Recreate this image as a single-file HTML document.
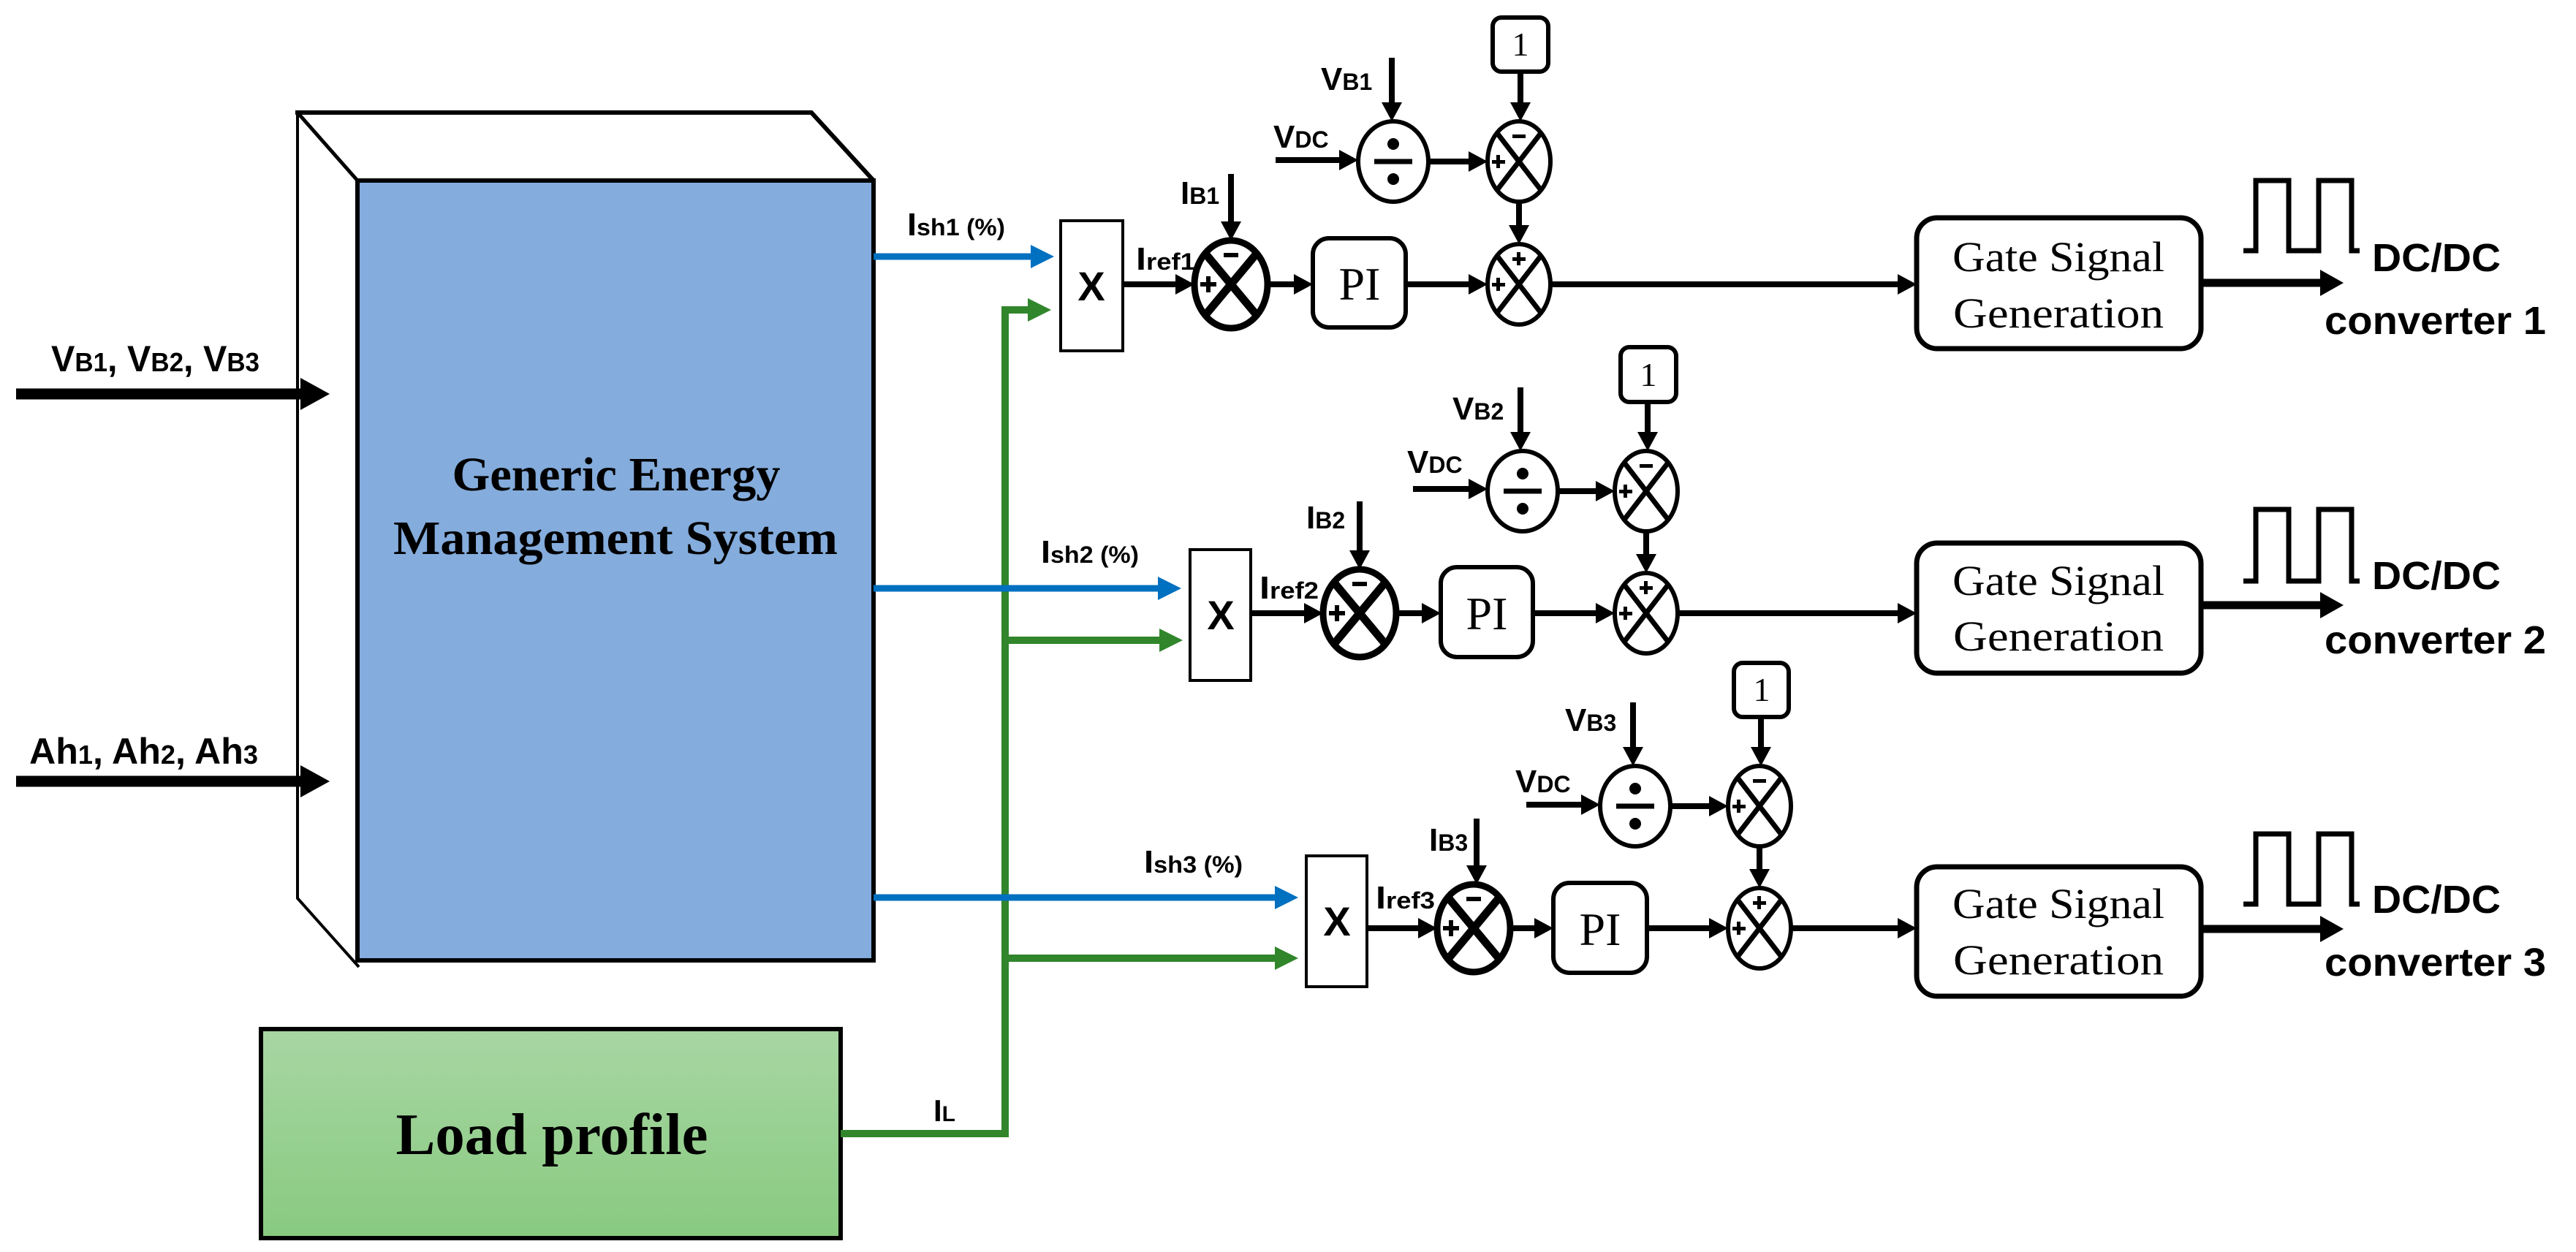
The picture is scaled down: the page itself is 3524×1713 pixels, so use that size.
<!DOCTYPE html>
<html><head><meta charset="utf-8"><style>
html,body{margin:0;padding:0;background:#fff;}
svg{display:block;}
.lb{font-family:"Liberation Sans Narrow","Liberation Sans",sans-serif;font-weight:bold;fill:#000;}
.sr{font-family:"Liberation Serif",serif;fill:#000;}
</style></head><body>
<svg width="3524" height="1713" viewBox="0 0 3524 1713" xmlns="http://www.w3.org/2000/svg">
<defs>
<marker id="a" markerWidth="26" markerHeight="28" refX="14" refY="14" orient="auto" markerUnits="userSpaceOnUse"><path d="M0,0 L26,14 L0,28z" fill="#000"/></marker>
<marker id="ab" markerWidth="40" markerHeight="44" refX="25" refY="22" orient="auto" markerUnits="userSpaceOnUse"><path d="M0,0 L40,22 L0,44z" fill="#000"/></marker>
<marker id="ao" markerWidth="32" markerHeight="36" refX="20" refY="18" orient="auto" markerUnits="userSpaceOnUse"><path d="M0,0 L32,18 L0,36z" fill="#000"/></marker>
<marker id="bl" markerWidth="32" markerHeight="32" refX="20" refY="16" orient="auto" markerUnits="userSpaceOnUse"><path d="M0,0 L32,16 L0,32z" fill="#0070c0"/></marker>
<marker id="gr" markerWidth="32" markerHeight="32" refX="20" refY="16" orient="auto" markerUnits="userSpaceOnUse"><path d="M0,0 L32,16 L0,32z" fill="#31862b"/></marker>
<linearGradient id="lg" x1="0" y1="0" x2="0" y2="1"><stop offset="0" stop-color="#a8d6a3"/><stop offset="1" stop-color="#88ca80"/></linearGradient>
</defs>

<path d="M404,154 H1110 L1195,247" fill="none" stroke="#000" stroke-width="6"/>
<path d="M407,154 L489,247" fill="none" stroke="#000" stroke-width="5"/>
<path d="M407,154 V1229 L491,1323" fill="none" stroke="#000" stroke-width="4"/>
<rect x="489" y="247" width="706" height="1067" fill="#84acdc" stroke="#000" stroke-width="6"/>
<text class="sr" x="843" y="671" font-size="66" text-anchor="middle" textLength="449" lengthAdjust="spacingAndGlyphs" font-weight="bold">Generic Energy</text>
<text class="sr" x="842" y="758" font-size="66" text-anchor="middle" textLength="608" lengthAdjust="spacingAndGlyphs" font-weight="bold">Management System</text>

<line x1="22" y1="539" x2="436" y2="539" stroke="#000" stroke-width="15" marker-end="url(#ab)"/>
<text class="lb" x="70" y="508" font-size="50" textLength="285" lengthAdjust="spacingAndGlyphs">V<tspan font-size="36">B1</tspan>, V<tspan font-size="36">B2</tspan>, V<tspan font-size="36">B3</tspan></text>
<line x1="22" y1="1069" x2="436" y2="1069" stroke="#000" stroke-width="15" marker-end="url(#ab)"/>
<text class="lb" x="40" y="1045" font-size="50" textLength="313" lengthAdjust="spacingAndGlyphs">Ah<tspan font-size="36">1</tspan>, Ah<tspan font-size="36">2</tspan>, Ah<tspan font-size="36">3</tspan></text>

<rect x="357" y="1408" width="793" height="286" fill="url(#lg)" stroke="#000" stroke-width="6"/>
<text class="sr" x="755" y="1579" font-size="80" text-anchor="middle" textLength="427" lengthAdjust="spacingAndGlyphs" font-weight="bold">Load profile</text>
<text class="lb" x="1277" y="1534" font-size="42">I<tspan font-size="30">L</tspan></text>

<path d="M1150,1551 H1375 V424 H1426" fill="none" stroke="#31862b" stroke-width="10" marker-end="url(#gr)"/>
<line x1="1375" y1="876" x2="1606" y2="876" stroke="#31862b" stroke-width="10" marker-end="url(#gr)"/>
<line x1="1375" y1="1311" x2="1764" y2="1311" stroke="#31862b" stroke-width="10" marker-end="url(#gr)"/>

<line x1="1195" y1="351" x2="1430" y2="351" stroke="#0070c0" stroke-width="9" marker-end="url(#bl)"/>
<line x1="1195" y1="805" x2="1604" y2="805" stroke="#0070c0" stroke-width="9" marker-end="url(#bl)"/>
<line x1="1195" y1="1228" x2="1764" y2="1228" stroke="#0070c0" stroke-width="9" marker-end="url(#bl)"/>
<text class="lb" x="1241" y="322" font-size="44" textLength="134" lengthAdjust="spacingAndGlyphs">I<tspan font-size="32">sh1 (%)</tspan></text>
<text class="lb" x="1424" y="770" font-size="44" textLength="134" lengthAdjust="spacingAndGlyphs">I<tspan font-size="32">sh2 (%)</tspan></text>
<text class="lb" x="1565" y="1194" font-size="44" textLength="135" lengthAdjust="spacingAndGlyphs">I<tspan font-size="32">sh3 (%)</tspan></text>

<g stroke="#000" stroke-width="4" fill="#fff">
<rect x="1451" y="302" width="85" height="178"/>
<rect x="1628" y="752" width="83" height="179"/>
<rect x="1787" y="1171" width="83" height="179"/>
</g>
<g class="lb" font-size="56" text-anchor="middle" font-weight="normal">
<text x="1493" y="411">X</text><text x="1670" y="861">X</text><text x="1829" y="1280">X</text>
</g>

<g stroke="#000" stroke-width="8" fill="none">
<line x1="1536" y1="389" x2="1622" y2="389" marker-end="url(#a)"/>
<line x1="1684" y1="238" x2="1684" y2="317" marker-end="url(#a)"/>
<line x1="1734" y1="389" x2="1784" y2="389" marker-end="url(#a)"/>
<line x1="1923" y1="389" x2="2023" y2="389" marker-end="url(#a)"/>
<line x1="2080" y1="98" x2="2080" y2="154" marker-end="url(#a)"/>
<line x1="1904" y1="79" x2="1904" y2="154" marker-end="url(#a)"/>
<line x1="1745" y1="219" x2="1846" y2="219" marker-end="url(#a)"/>
<line x1="1954" y1="221" x2="2023" y2="221" marker-end="url(#a)"/>
<line x1="2078" y1="276" x2="2078" y2="322" marker-end="url(#a)"/>
<line x1="2121" y1="389" x2="2610" y2="389" marker-end="url(#a)"/>
<line x1="3011" y1="387" x2="3194" y2="387" stroke-width="11" marker-end="url(#ao)"/>
<line x1="1711" y1="839" x2="1798" y2="839" marker-end="url(#a)"/>
<line x1="1860" y1="686" x2="1860" y2="767" marker-end="url(#a)"/>
<line x1="1910" y1="839" x2="1959" y2="839" marker-end="url(#a)"/>
<line x1="2097" y1="839" x2="2197" y2="839" marker-end="url(#a)"/>
<line x1="2254" y1="550" x2="2254" y2="605" marker-end="url(#a)"/>
<line x1="2080" y1="530" x2="2080" y2="605" marker-end="url(#a)"/>
<line x1="1933" y1="669" x2="2023" y2="669" marker-end="url(#a)"/>
<line x1="2131" y1="672" x2="2197" y2="672" marker-end="url(#a)"/>
<line x1="2252" y1="727" x2="2252" y2="772" marker-end="url(#a)"/>
<line x1="2295" y1="839" x2="2610" y2="839" marker-end="url(#a)"/>
<line x1="3011" y1="828" x2="3194" y2="828" stroke-width="11" marker-end="url(#ao)"/>
<line x1="1870" y1="1270" x2="1954" y2="1270" marker-end="url(#a)"/>
<line x1="2020" y1="1120" x2="2020" y2="1198" marker-end="url(#a)"/>
<line x1="2066" y1="1270" x2="2113" y2="1270" marker-end="url(#a)"/>
<line x1="2253" y1="1270" x2="2352" y2="1270" marker-end="url(#a)"/>
<line x1="2409" y1="981" x2="2409" y2="1036" marker-end="url(#a)"/>
<line x1="2234" y1="961" x2="2234" y2="1036" marker-end="url(#a)"/>
<line x1="2088" y1="1101" x2="2177" y2="1101" marker-end="url(#a)"/>
<line x1="2285" y1="1103" x2="2352" y2="1103" marker-end="url(#a)"/>
<line x1="2407" y1="1158" x2="2407" y2="1203" marker-end="url(#a)"/>
<line x1="2450" y1="1270" x2="2610" y2="1270" marker-end="url(#a)"/>
<line x1="3011" y1="1271" x2="3194" y2="1271" stroke-width="11" marker-end="url(#ao)"/>
<path d="M3069,343 H3086 V247 H3131 V343 H3172 V247 H3217 V343 H3228" stroke-width="7"/>
<path d="M3069,795 H3086 V697 H3131 V795 H3172 V697 H3217 V795 H3228" stroke-width="7"/>
<path d="M3069,1237 H3086 V1141 H3131 V1237 H3172 V1141 H3217 V1237 H3228" stroke-width="7"/>
</g>

<g stroke="#000" stroke-width="6" fill="#fff">
<rect x="1796" y="326" width="127" height="122" rx="22"/>
<rect x="1971" y="776" width="126" height="123" rx="22"/>
<rect x="2125" y="1208" width="128" height="123" rx="22"/>
<rect x="2042" y="24" width="76" height="74" rx="12"/>
<rect x="2217" y="475" width="76" height="75" rx="12"/>
<rect x="2372" y="907" width="75" height="74" rx="12"/>
<rect x="2622" y="298" width="389" height="179" rx="28" stroke-width="7"/>
<rect x="2622" y="743" width="389" height="178" rx="28" stroke-width="7"/>
<rect x="2622" y="1186" width="389" height="177" rx="28" stroke-width="7"/>
</g>
<g class="sr" text-anchor="middle">
<text x="1860" y="410" font-size="64">PI</text>
<text x="2034" y="861" font-size="64">PI</text>
<text x="2189" y="1293" font-size="64">PI</text>
<text x="2080" y="76" font-size="46">1</text>
<text x="2255" y="528" font-size="46">1</text>
<text x="2410" y="959" font-size="46">1</text>
<text x="2816" y="371" font-size="58" textLength="290" lengthAdjust="spacingAndGlyphs">Gate Signal</text>
<text x="2816" y="448" font-size="58" textLength="288" lengthAdjust="spacingAndGlyphs">Generation</text>
<text x="2816" y="814" font-size="58" textLength="290" lengthAdjust="spacingAndGlyphs">Gate Signal</text>
<text x="2816" y="890" font-size="58" textLength="288" lengthAdjust="spacingAndGlyphs">Generation</text>
<text x="2816" y="1256" font-size="58" textLength="290" lengthAdjust="spacingAndGlyphs">Gate Signal</text>
<text x="2816" y="1333" font-size="58" textLength="288" lengthAdjust="spacingAndGlyphs">Generation</text>
</g>

<g stroke="#000" fill="#fff">
<ellipse cx="1684" cy="389" rx="50" ry="60" stroke-width="9"/>
<ellipse cx="1860" cy="839" rx="50" ry="60" stroke-width="9"/>
<ellipse cx="2016" cy="1270" rx="50" ry="60" stroke-width="9"/>
<ellipse cx="2078" cy="389" rx="43" ry="55" stroke-width="6"/>
<ellipse cx="2078" cy="221" rx="43" ry="55" stroke-width="6"/>
<ellipse cx="2252" cy="839" rx="43" ry="55" stroke-width="6"/>
<ellipse cx="2252" cy="672" rx="43" ry="55" stroke-width="6"/>
<ellipse cx="2407" cy="1270" rx="43" ry="55" stroke-width="6"/>
<ellipse cx="2407" cy="1103" rx="43" ry="55" stroke-width="6"/>
<ellipse cx="1906" cy="221" rx="48" ry="55" stroke-width="6"/>
<ellipse cx="2083" cy="672" rx="48" ry="55" stroke-width="6"/>
<ellipse cx="2237" cy="1103" rx="48" ry="55" stroke-width="6"/>
</g>
<g stroke="#000" stroke-width="11">
<path d="M1649,347 L1719,431 M1719,347 L1649,431"/>
<path d="M1825,797 L1895,881 M1895,797 L1825,881"/>
<path d="M1981,1228 L2051,1312 M2051,1228 L1981,1312"/>
</g>
<g stroke="#000" stroke-width="7">
<path d="M2048,350 L2108,428 M2108,350 L2048,428"/>
<path d="M2048,182 L2108,260 M2108,182 L2048,260"/>
<path d="M2222,800 L2282,878 M2282,800 L2222,878"/>
<path d="M2222,633 L2282,711 M2282,633 L2222,711"/>
<path d="M2377,1231 L2437,1309 M2437,1231 L2377,1309"/>
<path d="M2377,1064 L2437,1142 M2437,1064 L2377,1142"/>
<path d="M1880,221 H1932 M2057,672 H2109 M2211,1103 H2263"/>
</g>
<g fill="#000">
<circle cx="1906" cy="197" r="8"/><circle cx="1906" cy="245" r="8"/>
<circle cx="2083" cy="648" r="8"/><circle cx="2083" cy="696" r="8"/>
<circle cx="2237" cy="1079" r="8"/><circle cx="2237" cy="1127" r="8"/>
<rect x="1674" y="346" width="20" height="6"/><rect x="1850" y="796" width="20" height="6"/><rect x="2006" y="1227" width="20" height="6"/>
<rect x="2069" y="184" width="18" height="5"/><rect x="2243" y="635" width="18" height="5"/><rect x="2398" y="1066" width="18" height="5"/>
<rect x="1642" y="386" width="22" height="6"/><rect x="1650" y="378" width="6" height="22"/>
<rect x="1818" y="836" width="22" height="6"/><rect x="1826" y="828" width="6" height="22"/>
<rect x="1974" y="1267" width="22" height="6"/><rect x="1982" y="1259" width="6" height="22"/>
<rect x="2041" y="219" width="18" height="5"/><rect x="2047" y="212" width="5" height="18"/>
<rect x="2041" y="387" width="18" height="5"/><rect x="2047" y="380" width="5" height="18"/>
<rect x="2215" y="670" width="18" height="5"/><rect x="2221" y="663" width="5" height="18"/>
<rect x="2215" y="837" width="18" height="5"/><rect x="2221" y="830" width="5" height="18"/>
<rect x="2370" y="1101" width="18" height="5"/><rect x="2376" y="1094" width="5" height="18"/>
<rect x="2370" y="1268" width="18" height="5"/><rect x="2376" y="1261" width="5" height="18"/>
<rect x="2069" y="352" width="18" height="5"/><rect x="2075" y="345" width="5" height="18"/>
<rect x="2243" y="802" width="18" height="5"/><rect x="2249" y="795" width="5" height="18"/>
<rect x="2398" y="1233" width="18" height="5"/><rect x="2404" y="1226" width="5" height="18"/>
</g>

<g class="lb" font-size="44">
<text x="1554" y="369" textLength="81" lengthAdjust="spacingAndGlyphs">I<tspan font-size="32">ref1</tspan></text>
<text x="1723" y="819" textLength="81" lengthAdjust="spacingAndGlyphs">I<tspan font-size="32">ref2</tspan></text>
<text x="1882" y="1243" textLength="81" lengthAdjust="spacingAndGlyphs">I<tspan font-size="32">ref3</tspan></text>
<text x="1615" y="279">I<tspan font-size="32">B1</tspan></text>
<text x="1787" y="723">I<tspan font-size="32">B2</tspan></text>
<text x="1955" y="1164">I<tspan font-size="32">B3</tspan></text>
<text x="1807" y="123">V<tspan font-size="32">B1</tspan></text>
<text x="1987" y="574">V<tspan font-size="32">B2</tspan></text>
<text x="2141" y="1000">V<tspan font-size="32">B3</tspan></text>
<text x="1742" y="202">V<tspan font-size="32">DC</tspan></text>
<text x="1925" y="647">V<tspan font-size="32">DC</tspan></text>
<text x="2073" y="1084">V<tspan font-size="32">DC</tspan></text>
</g>
<g class="lb" font-size="54">
<text x="3245" y="371" textLength="176" lengthAdjust="spacingAndGlyphs">DC/DC</text>
<text x="3180" y="457" textLength="303" lengthAdjust="spacingAndGlyphs">converter 1</text>
<text x="3245" y="806" textLength="176" lengthAdjust="spacingAndGlyphs">DC/DC</text>
<text x="3180" y="894" textLength="303" lengthAdjust="spacingAndGlyphs">converter 2</text>
<text x="3245" y="1249" textLength="176" lengthAdjust="spacingAndGlyphs">DC/DC</text>
<text x="3180" y="1335" textLength="303" lengthAdjust="spacingAndGlyphs">converter 3</text>
</g>
</svg>
</body></html>
